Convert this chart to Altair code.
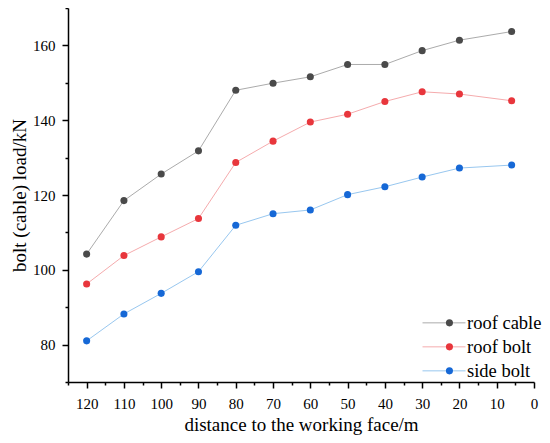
import altair as alt
import pandas as pd

distance = [120, 110, 100, 90, 80, 70, 60, 50, 40, 30, 20, 6]
roof_cable = [104.2, 118.5, 125.6, 131.8, 148.0, 149.9, 151.6, 154.9, 154.9, 158.6, 161.4, 163.7]
roof_bolt = [96.2, 103.8, 108.8, 113.7, 128.7, 134.4, 139.5, 141.6, 145.0, 147.6, 147.0, 145.2]
side_bolt = [81.0, 88.2, 93.7, 99.5, 111.9, 115.0, 116.0, 120.1, 122.2, 124.8, 127.2, 128.0]

series = ["roof cable", "roof bolt", "side bolt"]
line_colors = ["#ababab", "#f5abad", "#98c7ef"]
point_colors = ["#4a4a4a", "#e8363c", "#1668d6"]

x_ticks = [125, 120, 115, 110, 105, 100, 95, 90, 85, 80, 75, 70, 65,
           60, 55, 50, 45, 40, 35, 30, 25, 20, 15, 10, 5, 0]
y_ticks = [70, 80, 90, 100, 110, 120, 130, 140, 150, 160, 170]

rows = []
for name, vals in zip(series, [roof_cable, roof_bolt, side_bolt]):
    for d, v in zip(distance, vals):
        rows.append({"series": name, "distance": d, "load": v})
df = pd.DataFrame(rows)

FONT = "Liberation Serif"

x_enc = alt.X(
    "distance:Q",
    scale=alt.Scale(domain=[125, 0], nice=False, zero=False),
    axis=alt.Axis(
        title="distance to the working face/m",
        values=x_ticks,
        labelExpr="(datum.value % 10 === 0) ? '' + datum.value : ''",
        tickSize={"expr": "datum.value % 10 === 0 ? 6 : 3"},
        labelPadding=8,
        labelFlush=False,
        labelOverlap=False,
        labelBound=False,
        titlePadding=4,
    ),
)
y_enc = alt.Y(
    "load:Q",
    scale=alt.Scale(domain=[70, 170], nice=False, zero=False),
    axis=alt.Axis(
        title="bolt (cable) load/kN",
        values=y_ticks,
        labelExpr="(datum.value % 20 === 0 && datum.value >= 80 && datum.value <= 160) ? datum.label : ''",
        tickSize={"expr": "(datum.value % 20 === 0 && datum.value >= 80 && datum.value <= 160) ? 6 : 3"},
        labelPadding=7,
        labelFlush=False,
        labelOverlap=False,
        titlePadding=3,
    ),
)

lines = alt.Chart(df).mark_line(strokeWidth=1).encode(
    x=x_enc,
    y=y_enc,
    stroke=alt.Stroke(
        "series:N",
        scale=alt.Scale(domain=series, range=line_colors),
        legend=alt.Legend(
            title=None,
            orient="none",
            legendX=354,
            legendY=303,
            symbolType="stroke",
            symbolSize=1849,
            symbolStrokeWidth=1,
            clipHeight=23.7,
            rowPadding=0,
            padding=0,
            labelOffset=1,
            labelFont=FONT,
            labelFontSize=18.5,
            labelColor="black",
            labelLimit=200,
        ),
    ),
    order="distance:Q",
)

points = alt.Chart(df).mark_circle(size=50, opacity=1).encode(
    x=x_enc,
    y=y_enc,
    fill=alt.Fill(
        "series:N",
        scale=alt.Scale(domain=series, range=point_colors),
        legend=alt.Legend(
            title=None,
            orient="none",
            legendX=372.2,
            legendY=303,
            symbolType="circle",
            symbolSize=50,
            symbolStrokeWidth=0,
            symbolOpacity=1,
            clipHeight=23.7,
            rowPadding=0,
            padding=0,
            labelOffset=1,
            labelFont=FONT,
            labelFontSize=18.5,
            labelExpr="''",
        ),
    ),
)

chart = (
    alt.layer(lines, points)
    .resolve_scale(stroke="independent", fill="independent")
    .properties(
        width=466,
        height=374,
        autosize=alt.AutoSizeParams(type="none"),
        padding={"left": 60, "top": 0, "right": 8, "bottom": 53},
    )
    .configure_view(stroke="transparent")
    .configure_axis(
        grid=False,
        domainColor="black",
        domainWidth=1.5,
        tickColor="black",
        tickWidth=1.5,
        labelFont=FONT,
        labelFontSize=15,
        labelColor="black",
        titleFont=FONT,
        titleFontSize=19,
        titleFontWeight="normal",
        titleColor="black",
    )
)

chart.save("out.html", embed_options={"renderer": "svg", "actions": False})
